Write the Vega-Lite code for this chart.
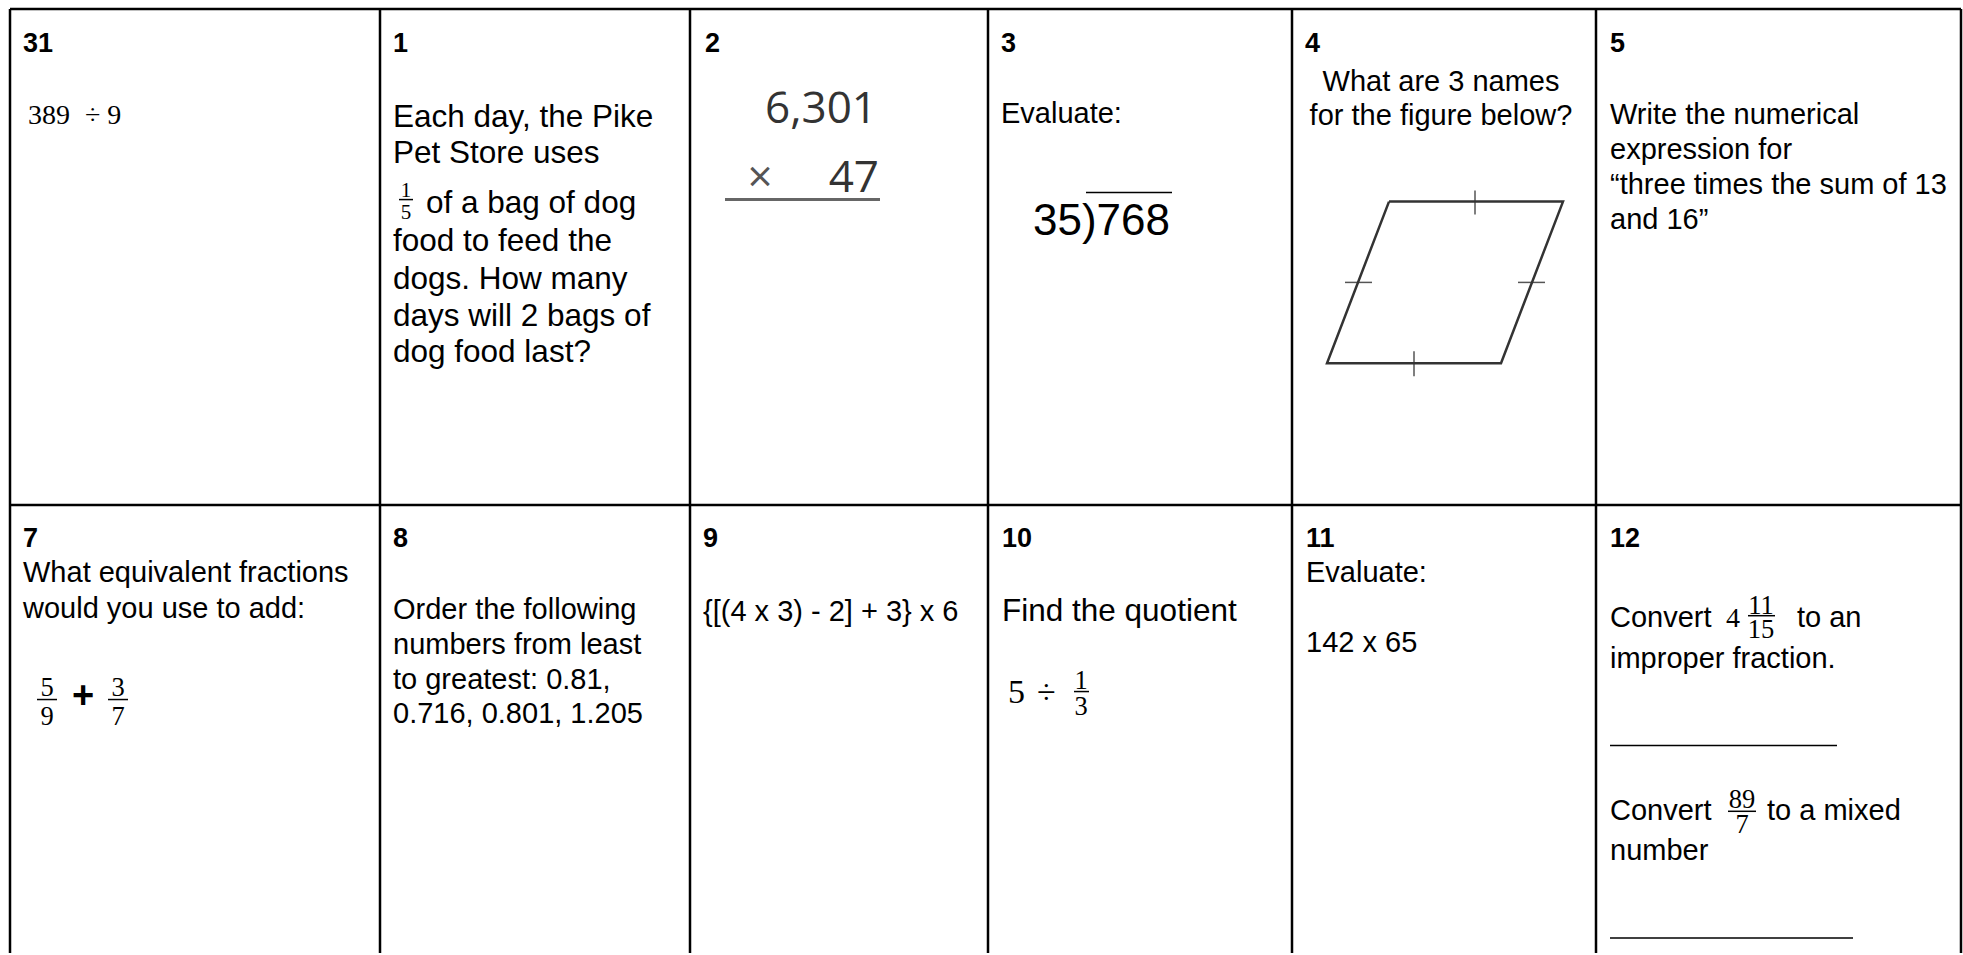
{
  "$schema": "https://vega.github.io/schema/vega-lite/v6.json",
  "width": 1963,
  "height": 955,
  "autosize": {"type": "fit", "contains": "padding"},
  "padding": 0,
  "background": "white",
  "config": {"view": {"stroke": null}},
  "datasets": {
    "grid": [
      {"x": 10, "x2": 1961, "y": 9, "y2": 9},
      {"x": 10, "x2": 1961, "y": 506, "y2": 506},
      {"x": 10, "x2": 10, "y": 9, "y2": 955},
      {"x": 380, "x2": 380, "y": 9, "y2": 955},
      {"x": 690, "x2": 690, "y": 9, "y2": 955},
      {"x": 988, "x2": 988, "y": 9, "y2": 955},
      {"x": 1292, "x2": 1292, "y": 9, "y2": 955},
      {"x": 1596, "x2": 1596, "y": 9, "y2": 955},
      {"x": 1961, "x2": 1961, "y": 9, "y2": 955}
    ],
    "thin": [
      {"x": 399, "x2": 413, "y": 200, "y2": 200},
      {"x": 37, "x2": 57, "y": 701, "y2": 701},
      {"x": 108, "x2": 128, "y": 701, "y2": 701},
      {"x": 1074, "x2": 1089, "y": 693, "y2": 693},
      {"x": 1748, "x2": 1775, "y": 617, "y2": 617},
      {"x": 1728, "x2": 1756, "y": 813, "y2": 813},
      {"x": 1610, "x2": 1837, "y": 747, "y2": 747},
      {"x": 1610, "x2": 1853, "y": 940, "y2": 940},
      {"x": 1086, "x2": 1172, "y": 193, "y2": 193}
    ],
    "underline": [
      {"x": 725, "x2": 880, "y": 200, "y2": 200}
    ],
    "ticks": [
      {"x": 1475, "x2": 1475, "y": 191, "y2": 215},
      {"x": 1414, "x2": 1414, "y": 352, "y2": 377},
      {"x": 1345, "x2": 1372, "y": 283, "y2": 283},
      {"x": 1518, "x2": 1545, "y": 283, "y2": 283}
    ],
    "para": [
      {"i": 0, "x": 1389, "y": 202},
      {"i": 1, "x": 1563, "y": 202},
      {"i": 2, "x": 1501, "y": 364},
      {"i": 3, "x": 1327, "y": 364},
      {"i": 4, "x": 1389, "y": 202}
    ],
    "bold": [
      {"t": "31", "x": 23, "y": 52},
      {"t": "1", "x": 393, "y": 52},
      {"t": "2", "x": 705, "y": 52},
      {"t": "3", "x": 1001, "y": 52},
      {"t": "4", "x": 1305, "y": 52},
      {"t": "5", "x": 1610, "y": 52},
      {"t": "7", "x": 23, "y": 548},
      {"t": "8", "x": 393, "y": 548},
      {"t": "9", "x": 703, "y": 548},
      {"t": "10", "x": 1002, "y": 548},
      {"t": "11", "x": 1306, "y": 548},
      {"t": "12", "x": 1610, "y": 548}
    ],
    "body": [
      {"t": "Evaluate:", "x": 1001, "y": 123},
      {"t": "Write the numerical", "x": 1610, "y": 124},
      {"t": "expression for", "x": 1610, "y": 159},
      {"t": "“three times the sum of 13", "x": 1610, "y": 194},
      {"t": "and 16”", "x": 1610, "y": 229},
      {"t": "What equivalent fractions", "x": 23, "y": 583},
      {"t": "would you use to add:", "x": 23, "y": 619},
      {"t": "Order the following", "x": 393, "y": 620},
      {"t": "numbers from least", "x": 393, "y": 655},
      {"t": "to greatest: 0.81,", "x": 393, "y": 690},
      {"t": "0.716, 0.801, 1.205", "x": 393, "y": 725},
      {"t": "{[(4 x 3) - 2] + 3} x 6", "x": 703, "y": 622},
      {"t": "Evaluate:", "x": 1306, "y": 583},
      {"t": "142 x 65", "x": 1306, "y": 653},
      {"t": "Convert", "x": 1610, "y": 628},
      {"t": "to an", "x": 1797, "y": 628},
      {"t": "improper fraction.", "x": 1610, "y": 669},
      {"t": "Convert", "x": 1610, "y": 822},
      {"t": "to a mixed", "x": 1767, "y": 822},
      {"t": "number", "x": 1610, "y": 862}
    ],
    "big": [
      {"t": "Each day, the Pike", "x": 393, "y": 127},
      {"t": "Pet Store uses", "x": 393, "y": 163},
      {"t": "of a bag of dog", "x": 426, "y": 213},
      {"t": "food to feed the", "x": 393, "y": 252},
      {"t": "dogs. How many", "x": 393, "y": 290},
      {"t": "days will 2 bags of", "x": 393, "y": 327},
      {"t": "dog food last?", "x": 393, "y": 363},
      {"t": "Find the quotient", "x": 1002, "y": 622}
    ],
    "centered": [
      {"t": "What are 3 names", "x": 1441, "y": 91},
      {"t": "for the figure below?", "x": 1441, "y": 125}
    ],
    "division": [
      {"t": "35)768", "x": 1033, "y": 235}
    ],
    "mult": [
      {"t": "6,301", "x": 877, "y": 123},
      {"t": "47", "x": 879, "y": 192}
    ],
    "times": [
      {"t": "×", "x": 760, "y": 192}
    ],
    "serif": [
      {"t": "389", "x": 28, "y": 124},
      {"t": "÷ 9", "x": 85, "y": 124},
      {"t": "4", "x": 1726, "y": 628}
    ],
    "serifbig": [
      {"t": "5", "x": 1008, "y": 704},
      {"t": "÷", "x": 1037, "y": 704}
    ],
    "fracsmall": [
      {"t": "1", "x": 406, "y": 197},
      {"t": "5", "x": 406, "y": 219}
    ],
    "frac": [
      {"t": "5", "x": 47, "y": 697},
      {"t": "9", "x": 47, "y": 727},
      {"t": "3", "x": 118, "y": 697},
      {"t": "7", "x": 118, "y": 727},
      {"t": "1", "x": 1081, "y": 690},
      {"t": "3", "x": 1081, "y": 716},
      {"t": "11", "x": 1761, "y": 615},
      {"t": "15", "x": 1761, "y": 639},
      {"t": "89", "x": 1742, "y": 810},
      {"t": "7", "x": 1742, "y": 835}
    ],
    "plus": [
      {"t": "+", "x": 83, "y": 709}
    ]
  },
  "encoding": {
    "x": {"field": "x", "type": "quantitative", "scale": {"domain": [0, 1963], "nice": false, "zero": false}, "axis": null},
    "y": {"field": "y", "type": "quantitative", "scale": {"domain": [0, 955], "nice": false, "zero": false, "reverse": true}, "axis": null}
  },
  "layer": [
    {
      "data": {"name": "grid"},
      "mark": {"type": "rule", "color": "black", "strokeWidth": 2.5},
      "encoding": {"x2": {"field": "x2"}, "y2": {"field": "y2"}}
    },
    {
      "data": {"name": "thin"},
      "mark": {"type": "rule", "color": "black", "strokeWidth": 1.5},
      "encoding": {"x2": {"field": "x2"}, "y2": {"field": "y2"}}
    },
    {
      "data": {"name": "underline"},
      "mark": {"type": "rule", "color": "#666666", "strokeWidth": 3},
      "encoding": {"x2": {"field": "x2"}, "y2": {"field": "y2"}}
    },
    {
      "data": {"name": "ticks"},
      "mark": {"type": "rule", "color": "#555555", "strokeWidth": 1.5},
      "encoding": {"x2": {"field": "x2"}, "y2": {"field": "y2"}}
    },
    {
      "data": {"name": "para"},
      "mark": {"type": "line", "color": "#333333", "strokeWidth": 2.5, "strokeJoin": "miter"},
      "encoding": {"order": {"field": "i", "type": "quantitative"}}
    },
    {
      "data": {"name": "bold"},
      "mark": {"type": "text", "font": "Liberation Sans", "fontWeight": "bold", "fontSize": 27, "align": "left", "baseline": "alphabetic", "color": "black"},
      "encoding": {"text": {"field": "t", "type": "nominal"}}
    },
    {
      "data": {"name": "body"},
      "mark": {"type": "text", "font": "Liberation Sans", "fontSize": 29, "align": "left", "baseline": "alphabetic", "color": "black"},
      "encoding": {"text": {"field": "t", "type": "nominal"}}
    },
    {
      "data": {"name": "big"},
      "mark": {"type": "text", "font": "Liberation Sans", "fontSize": 31.5, "align": "left", "baseline": "alphabetic", "color": "black"},
      "encoding": {"text": {"field": "t", "type": "nominal"}}
    },
    {
      "data": {"name": "centered"},
      "mark": {"type": "text", "font": "Liberation Sans", "fontSize": 29, "align": "center", "baseline": "alphabetic", "color": "black"},
      "encoding": {"text": {"field": "t", "type": "nominal"}}
    },
    {
      "data": {"name": "division"},
      "mark": {"type": "text", "font": "Liberation Sans", "fontSize": 44, "align": "left", "baseline": "alphabetic", "color": "black"},
      "encoding": {"text": {"field": "t", "type": "nominal"}}
    },
    {
      "data": {"name": "mult"},
      "mark": {"type": "text", "font": "Open Sans", "fontSize": 44, "align": "right", "baseline": "alphabetic", "color": "#333333"},
      "encoding": {"text": {"field": "t", "type": "nominal"}}
    },
    {
      "data": {"name": "times"},
      "mark": {"type": "text", "font": "Open Sans", "fontSize": 44, "align": "center", "baseline": "alphabetic", "color": "#555555"},
      "encoding": {"text": {"field": "t", "type": "nominal"}}
    },
    {
      "data": {"name": "serif"},
      "mark": {"type": "text", "font": "Liberation Serif", "fontSize": 28, "align": "left", "baseline": "alphabetic", "color": "black"},
      "encoding": {"text": {"field": "t", "type": "nominal"}}
    },
    {
      "data": {"name": "serifbig"},
      "mark": {"type": "text", "font": "Liberation Serif", "fontSize": 34, "align": "left", "baseline": "alphabetic", "color": "black"},
      "encoding": {"text": {"field": "t", "type": "nominal"}}
    },
    {
      "data": {"name": "fracsmall"},
      "mark": {"type": "text", "font": "Liberation Serif", "fontSize": 21, "align": "center", "baseline": "alphabetic", "color": "black"},
      "encoding": {"text": {"field": "t", "type": "nominal"}}
    },
    {
      "data": {"name": "frac"},
      "mark": {"type": "text", "font": "Liberation Serif", "fontSize": 26.5, "align": "center", "baseline": "alphabetic", "color": "black"},
      "encoding": {"text": {"field": "t", "type": "nominal"}}
    },
    {
      "data": {"name": "plus"},
      "mark": {"type": "text", "font": "Liberation Sans", "fontWeight": "bold", "fontSize": 38, "align": "center", "baseline": "alphabetic", "color": "black"},
      "encoding": {"text": {"field": "t", "type": "nominal"}}
    }
  ]
}
